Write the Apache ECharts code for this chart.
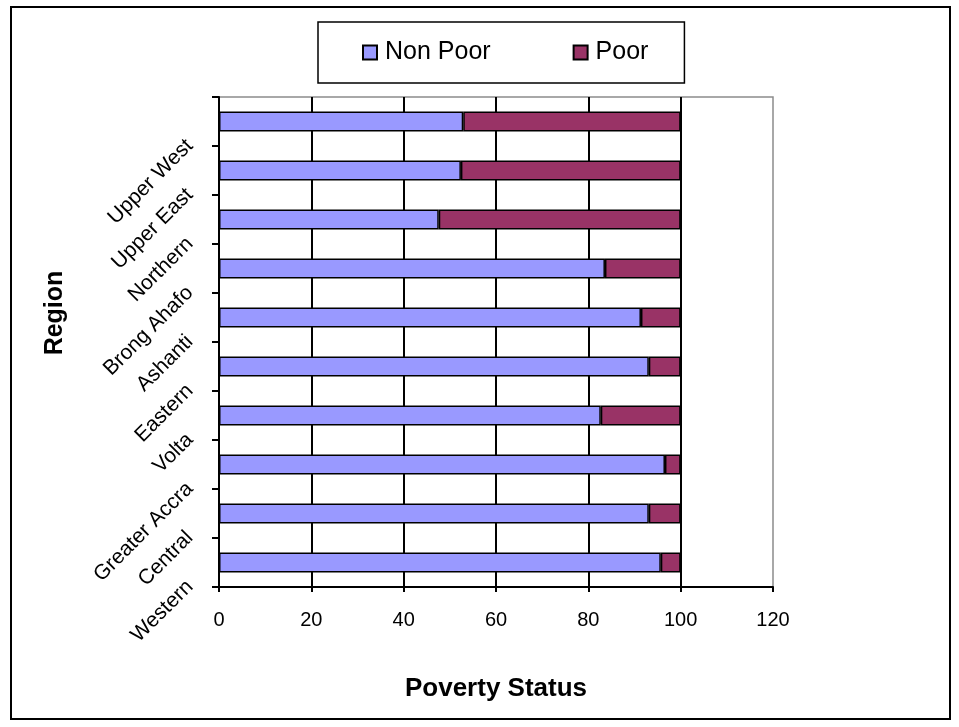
<!DOCTYPE html>
<html>
<head>
<meta charset="utf-8">
<title>Poverty Status by Region</title>
<script src="https://cdn.jsdelivr.net/npm/echarts@6/dist/echarts.min.js"></script>
<style>
  html, body { margin: 0; padding: 0; background: #ffffff; }
  #chart { width: 959px; height: 727px; }
</style>
</head>
<body>
<div id="chart"></div>
<script>
// Regions, listed bottom to top on the category axis
const regions = ['Western', 'Central', 'Greater Accra', 'Volta', 'Eastern',
                 'Ashanti', 'Brong Ahafo', 'Northern', 'Upper East', 'Upper West'];
// Share of households (%) by poverty status
const nonPoor = [95.7, 93.1, 96.6, 82.7, 93.1, 91.4, 83.6, 47.6, 52.4, 52.9];
const poor    = [4.3, 6.9, 3.4, 17.3, 6.9, 8.6, 16.4, 52.4, 47.6, 47.1];
const seriesNames = ['Non Poor', 'Poor'];
const xTicks = { min: 0, max: 120, interval: 20 };

const FONT = '"Liberation Sans", Arial, sans-serif';
const chart = echarts.init(document.getElementById('chart'), null, { renderer: 'canvas' });

chart.setOption({
  backgroundColor: '#ffffff',
  animation: false,
  textStyle: { fontFamily: FONT, color: '#000' },
  graphic: [{
    type: 'rect',
    shape: { x: 11, y: 7, width: 939, height: 712 },
    style: { fill: 'none', stroke: '#000', lineWidth: 2 },
    silent: true
  }],
  legend: {
    left: 318, top: 22,
    padding: [18, 36, 18, 44],
    borderColor: '#000', borderWidth: 1.5,
    itemWidth: 14, itemHeight: 14, itemGap: 82,
    icon: 'rect',
    textStyle: { fontFamily: FONT, fontSize: 25, color: '#000', padding: [0, 0, 0, 3] },
    data: seriesNames
  },
  grid: {
    left: 219, right: 186, top: 97, bottom: 140,
    show: true, borderColor: '#8c8c8c', borderWidth: 1.5, backgroundColor: 'transparent'
  },
  xAxis: {
    type: 'value',
    min: xTicks.min, max: xTicks.max, interval: xTicks.interval,
    name: 'Poverty Status',
    nameLocation: 'middle', nameGap: 89,
    nameTextStyle: { fontFamily: FONT, fontSize: 26, fontWeight: 'bold', color: '#000' },
    axisLine: { show: true, lineStyle: { color: '#000', width: 2 } },
    axisTick: { show: true, length: 5, lineStyle: { color: '#000', width: 2 } },
    axisLabel: { fontFamily: FONT, fontSize: 20, color: '#000', margin: 23 },
    splitLine: { show: true, showMinLine: false, showMaxLine: false, lineStyle: { color: '#000', width: 2 } }
  },
  yAxis: {
    type: 'category',
    data: regions,
    name: 'Region',
    nameLocation: 'middle', nameGap: 151, nameRotate: 90,
    nameTextStyle: { fontFamily: FONT, fontSize: 25, fontWeight: 'bold', color: '#000', padding: [0, 0, 0, 58] },
    axisLine: { show: true, lineStyle: { color: '#000', width: 2 } },
    axisTick: { show: true, length: 7, inside: false, lineStyle: { color: '#000', width: 2 } },
    axisLabel: {
      fontFamily: FONT, fontSize: 21, color: '#000',
      rotate: 45, margin: 8, align: 'right', verticalAlign: 'middle',
      padding: [26, 30, 0, 0]
    },
    splitLine: { show: false }
  },
  series: [
    {
      name: seriesNames[0], type: 'bar', stack: 'status', data: nonPoor,
      barWidth: 20,
      itemStyle: { color: '#9999FF', borderColor: '#000', borderWidth: 1.5 }
    },
    {
      name: seriesNames[1], type: 'bar', stack: 'status', data: poor,
      barWidth: 20,
      itemStyle: { color: '#993366', borderColor: '#000', borderWidth: 1.5 }
    }
  ]
});
</script>
</body>
</html>
